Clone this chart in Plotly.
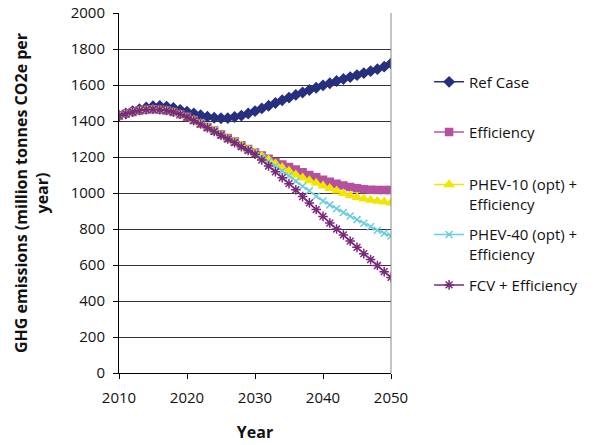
import plotly.graph_objects as go

years = list(range(2010, 2051))

ref_case = [1430, 1442, 1455, 1465, 1475, 1482, 1484, 1480, 1472, 1462,
            1452, 1442, 1432, 1424, 1418, 1415, 1416, 1422, 1430, 1442,
            1455, 1470, 1485, 1500, 1515, 1530, 1545, 1558, 1572, 1585,
            1598, 1610, 1622, 1633, 1644, 1655, 1666, 1677, 1688, 1702, 1720]

efficiency = [1430, 1440, 1450, 1458, 1463, 1465, 1463, 1458, 1450, 1438,
              1423, 1405, 1386, 1367, 1347, 1327, 1306, 1286, 1265, 1245,
              1225, 1208, 1190, 1172, 1158, 1145, 1130, 1115, 1100, 1087,
              1074, 1062, 1051, 1042, 1034, 1027, 1021, 1018, 1017, 1017, 1017]

phev10 = [1430, 1440, 1450, 1458, 1463, 1465, 1463, 1458, 1450, 1438,
          1423, 1405, 1386, 1367, 1347, 1327, 1306, 1286, 1265, 1243,
          1225, 1205, 1185, 1163, 1142, 1122, 1102, 1085, 1070, 1055,
          1040, 1027, 1012, 998, 986, 976, 968, 961, 956, 951, 946]

phev40 = [1430, 1440, 1450, 1458, 1463, 1465, 1463, 1458, 1450, 1438,
          1423, 1405, 1386, 1367, 1347, 1327, 1306, 1285, 1263, 1242,
          1222, 1200, 1175, 1150, 1122, 1095, 1066, 1038, 1012, 982,
          956, 934, 913, 892, 872, 852, 832, 812, 793, 776, 761]

fcv = [1430, 1440, 1450, 1458, 1463, 1465, 1463, 1458, 1450, 1438,
       1422, 1403, 1383, 1363, 1342, 1321, 1300, 1280, 1257, 1236,
       1215, 1183, 1150, 1118, 1085, 1052, 1018, 980, 945, 908,
       870, 833, 800, 767, 733, 698, 663, 630, 597, 563, 531]

series = [
    ("Ref Case", ref_case, "#27307F", "diamond", 7.5, "#27307F"),
    ("Efficiency", efficiency, "#B6519F", "square", 7, "#C64FA8"),
    ("PHEV-10 (opt) +<br>Efficiency", phev10, "#F2E600", "triangle-up", 8, "#F2E600"),
    ("PHEV-40 (opt) +<br>Efficiency", phev40, "#6ACCE0", "x-thin-open", 7, "#6ACCE0"),
    ("FCV + Efficiency", fcv, "#7A2A7E", "asterisk-open", 8, "#7A2A7E"),
]

# legend anchor positions (paper coords)
legend_pos = [0.808, 0.669, 0.569, 0.430, 0.244]
legend_anchor = ["middle", "middle", "top", "top", "middle"]

FONT = "Open Sans"
fig = go.Figure()
for i, (name, vals, col, sym, sz, lcol) in enumerate(series):
    lname = "legend" if i == 0 else f"legend{i+1}"
    fig.add_trace(go.Scatter(
        x=years, y=vals, name=name, mode="lines+markers",
        line=dict(color=lcol, width=1.5),
        marker=dict(symbol=sym, size=sz, color=col,
                    line=dict(color=col, width=1.5)),
        legend=lname, showlegend=True,
    ))

layout_legends = {}
for i in range(5):
    lname = "legend" if i == 0 else f"legend{i+1}"
    layout_legends[lname] = dict(
        x=1.14, y=legend_pos[i], xanchor="left", yanchor=legend_anchor[i],
        valign="top", bgcolor="rgba(0,0,0,0)",
        font=dict(family=FONT, size=15, color="#111"),
    )

fig.update_layout(
    width=613, height=445,
    margin=dict(l=119, r=222, t=13, b=72, autoexpand=False),
    plot_bgcolor="white", paper_bgcolor="white",
    showlegend=True,
    font=dict(family=FONT, size=15, color="#111"),
    **layout_legends,
)

fig.update_xaxes(
    range=[2010, 2050], tickvals=[2010, 2020, 2030, 2040, 2050],
    showgrid=False, zeroline=False, automargin=False,
    showline=True, linecolor="black", linewidth=1,
    ticks="outside", ticklen=5, tickcolor="black", ticklabelstandoff=6,
    tickfont=dict(family=FONT, size=15, color="#111"),
    title=dict(text="<b>Year</b>", font=dict(family=FONT, size=16, color="#111"), standoff=20),
)
fig.update_yaxes(
    range=[0, 2000], dtick=200,
    showgrid=True, gridcolor="#333", gridwidth=1, zeroline=False, automargin=False,
    showline=True, linecolor="black", linewidth=1,
    ticks="outside", ticklen=5, tickcolor="black", ticklabelstandoff=5,
    tickfont=dict(family=FONT, size=15, color="#111"),
    title=dict(text="<b>GHG emissions (million tonnes CO2e per<br>year)</b>",
               font=dict(family=FONT, size=16, color="#111"), standoff=18),
)

fig.add_shape(type="line", xref="paper", yref="paper", x0=1, x1=1, y0=0, y1=1,
              line=dict(color="#888", width=1))

fig.write_html("out.html", config={"displayModeBar": False},
               post_script="document.body.style.margin='0';")
